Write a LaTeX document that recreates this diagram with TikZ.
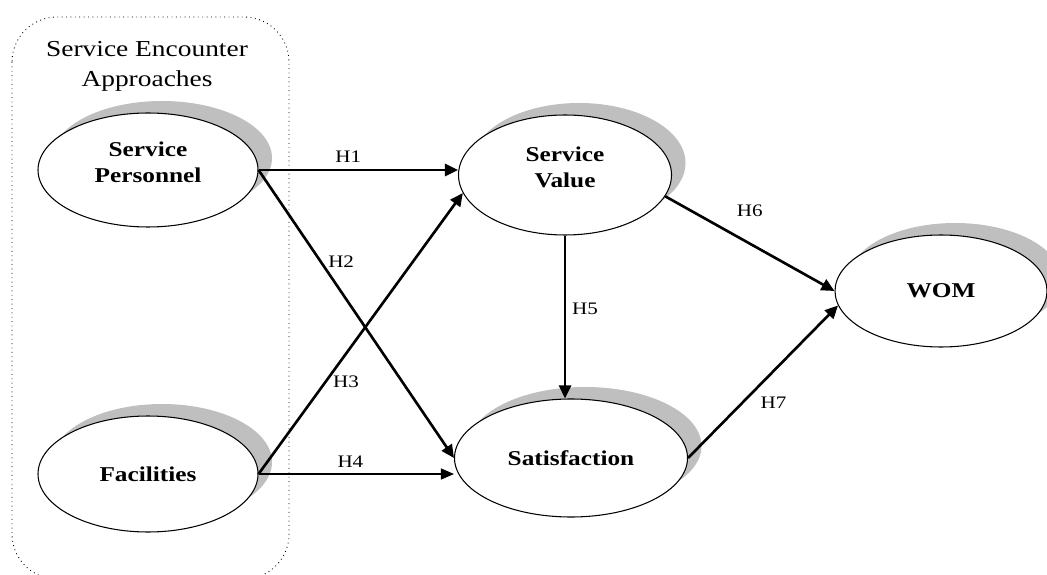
\documentclass[tikz,border=0pt]{standalone}
\usepackage{fontspec}
\setmainfont{Liberation Serif}[FakeStretch=1.2]
\usetikzlibrary{arrows.meta, positioning, shapes.geometric, shadows}

\tikzset{
  construct/.style={draw, ellipse, line width=0.6pt, fill=white, inner sep=0pt, align=center,
    font=\fontsize{12}{14.7}\selectfont\bfseries,
    drop shadow={shadow xshift=0.28cm, shadow yshift=0.24cm, fill=gray!50, opacity=1}},
  twoline/.style={text depth=0.32cm},
  hyp/.style={line width=1.5pt, -{Triangle[length=0.26cm, width=0.24cm]}},
  hypthin/.style={line width=0.6pt, -{Triangle[length=0.26cm, width=0.22cm]}},
  hlabel/.style={font=\fontsize{10}{12}\selectfont}
}

\begin{document}
\begin{tikzpicture}
    \useasboundingbox (0,0) rectangle (20.94,-11.5);

    % grouping box
    \draw[dotted, line width=0.5pt, rounded corners=0.9cm] (0.24,-0.34) rectangle (5.78,-11.58);
    \node[font=\fontsize{13}{17}\selectfont, align=center] (group) at (2.94,-1.32) {Service Encounter\\Approaches};

    \node[construct, twoline, minimum width=4.4cm, minimum height=2.28cm] (sp) at (2.96,-3.40) {Service\\Personnel};
    \node[construct, minimum width=4.4cm, minimum height=2.32cm] (fac) at (2.96,-9.48) {Facilities};
    \node[construct, twoline, minimum width=4.26cm, minimum height=2.4cm] (sv) at (11.30,-3.50) {Service\\Value};
    \node[construct, minimum width=4.66cm, minimum height=2.36cm] (sat) at (11.42,-9.16) {Satisfaction};
    \node[construct, minimum width=4.24cm, minimum height=2.24cm] (wom) at (18.82,-5.82) {WOM};

    % hypotheses
    \draw[hyp] (sp.east) -- node[hlabel, above, pos=0.45] (h1) {H1} (sp.east -| sv.west);
    \draw[hyp] (sp.east) -- node[hlabel, right, pos=0.32] (h2) {H2} (sat.west);
    \draw[hyp] (fac.east) -- node[hlabel, right, pos=0.33] (h3) {H3} (sv.190);
    \draw[hypthin] (fac.east) -- node[hlabel, above, pos=0.47] (h4) {H4} (fac.east -| sat.west);
    \draw[hyp] (sv.south) -- node[hlabel, right, pos=0.45] (h5) {H5} (sv.south |- sat.north);
    \draw[hyp] (sv.-12) -- node[hlabel, above=0.4cm, pos=0.5] (h6) {H6} (wom.west);
    \draw[hyp] (sat.east) -- node[hlabel, below=0.38cm, pos=0.57] (h7) {H7} (wom.188);
\end{tikzpicture}
\end{document}
